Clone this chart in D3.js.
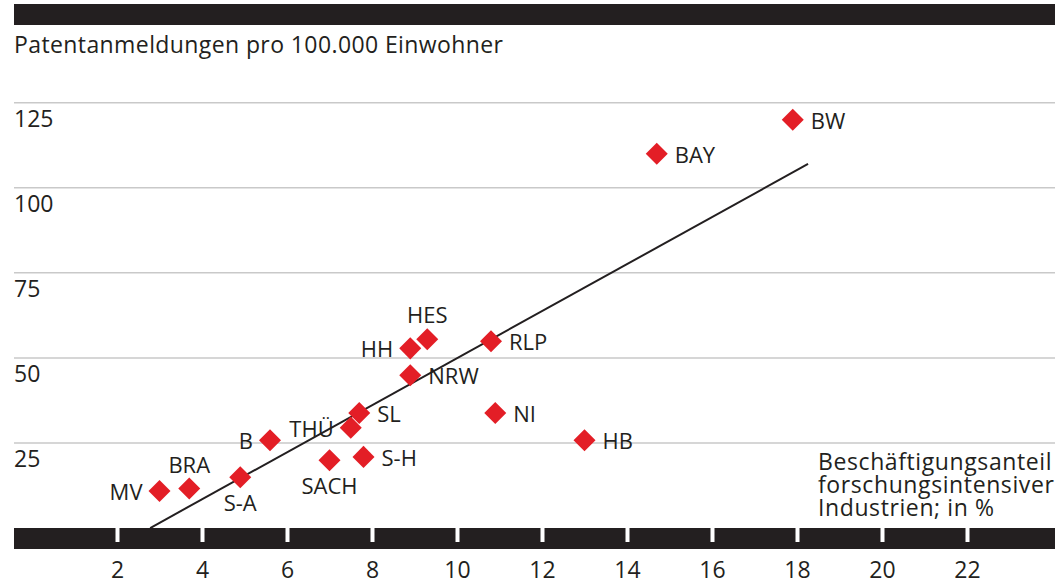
<!DOCTYPE html>
<html>
<head>
<meta charset="utf-8">
<script src="https://cdn.jsdelivr.net/npm/d3@7"></script>
<style>
  body { margin: 0; background: #fff; }
  svg { display: block; font-family: "Open Sans", sans-serif; }
</style>
</head>
<body>
<svg id="chart" width="1055" height="585"></svg>
<script>
// Bundesländer: Beschäftigungsanteil forschungsintensiver Industrien (%) vs. Patentanmeldungen
const states = ["BW", "BAY", "HES", "HH", "RLP", "NRW", "SL", "THÜ", "NI", "B", "S-H", "SACH", "S-A", "HB", "BRA", "MV"];
const shares = [17.9, 14.7, 9.3, 8.9, 10.8, 8.9, 7.7, 7.5, 10.9, 5.6, 7.8, 7.0, 4.9, 13.0, 3.7, 3.0];
const patents = [120, 110, 55.5, 52.8, 54.9, 44.9, 33.8, 29.5, 33.8, 25.8, 20.9, 19.9, 14.9, 25.8, 11.6, 10.9];

// Trendlinie (Endpunkte)
const trendX = [2.78, 18.26];
const trendY = [0, 107];

const yTicks = [25, 50, 75, 100, 125];
const xTicks = [2, 4, 6, 8, 10, 12, 14, 16, 18, 20, 22];
const xTitle = ["Beschäftigungsanteil", "forschungsintensiver", "Industrien; in %"];

// label side for each state
const labelSide = {
  "BW": "r", "BAY": "r", "HES": "t", "HH": "l", "RLP": "r", "NRW": "r", "SL": "r",
  "THÜ": "l", "NI": "r", "B": "l", "S-H": "r", "SACH": "b", "S-A": "b", "HB": "r",
  "BRA": "t", "MV": "l"
};

const svg = d3.select("#chart");
const W = 1055, left = 14;
const ink = "#231f20", red = "#e31e26";

const x = d3.scaleLinear().domain([0, 22]).range([32, 967]);
const y = d3.scaleLinear().domain([0, 125]).range([528, 102.7]);

// top bar
svg.append("rect").attr("x", left).attr("y", 4).attr("width", W - left).attr("height", 21).attr("fill", ink);

svg.append("text").attr("x", left).attr("y", 53)
  .attr("font-size", 23).attr("letter-spacing", 0.4).attr("fill", ink)
  .text("Patentanmeldungen pro 100.000 Einwohner");

// gridlines + y labels
const yg = svg.append("g");
yg.selectAll("line").data(yTicks).join("line")
  .attr("x1", left).attr("x2", W)
  .attr("y1", d => y(d)).attr("y2", d => y(d))
  .attr("stroke", "#c9c9c9").attr("stroke-width", 1.5);
yg.selectAll("text").data(yTicks).join("text")
  .attr("x", left).attr("y", d => y(d) + 24)
  .attr("font-size", 23).attr("fill", ink)
  .text(d => d);

// x axis bar
svg.append("rect").attr("x", left).attr("y", y(0)).attr("width", W - left).attr("height", 21).attr("fill", ink);
const xAxis = d3.axisBottom(x).tickValues(xTicks).tickSize(0).tickPadding(0);
const xg = svg.append("g").attr("transform", `translate(0,${y(0)})`).call(xAxis);
xg.select(".domain").remove();
xg.selectAll(".tick line").remove();
xg.selectAll(".tick").append("rect")
  .attr("x", -2).attr("y", 0).attr("width", 4).attr("height", 14).attr("fill", "#fff");
xg.selectAll(".tick text")
  .attr("y", 50).attr("dy", null)
  .attr("font-family", "Open Sans, sans-serif")
  .attr("font-size", 23).attr("fill", ink);

// x axis title
svg.append("text").attr("x", 818).attr("y", 470)
  .attr("font-size", 23).attr("letter-spacing", 0.6).attr("fill", ink)
  .selectAll("tspan")
  .data(xTitle)
  .join("tspan").attr("x", 818).attr("dy", (d, i) => i ? 23 : 0).text(d => d);

// trend line
svg.append("path")
  .datum(trendX.map((v, i) => [v, trendY[i]]))
  .attr("fill", "none").attr("stroke", ink).attr("stroke-width", 2)
  .attr("d", d3.line().x(d => x(d[0])).y(d => y(d[1])));

// points
const pts = states.map((s, i) => ({ s, px: x(shares[i]), py: y(patents[i]) }));
const diamond = d3.symbol(d3.symbolSquare, 243);
svg.append("g").selectAll("path").data(pts).join("path")
  .attr("transform", d => `translate(${d.px},${d.py}) rotate(45)`)
  .attr("d", diamond).attr("fill", red);

// labels
svg.append("g").selectAll("text").data(pts).join("text")
  .attr("font-size", 22).attr("fill", ink)
  .attr("x", d => {
    const side = labelSide[d.s];
    if (side === "r") return d.px + 18;
    if (side === "l") return d.px - 17;
    return d.px;
  })
  .attr("y", d => {
    const side = labelSide[d.s];
    if (side === "t") return d.py - 16;
    if (side === "b") return d.py + 34;
    return d.py + 9;
  })
  .attr("text-anchor", d => {
    const side = labelSide[d.s];
    return side === "r" ? "start" : side === "l" ? "end" : "middle";
  })
  .text(d => d.s);
</script>
</body>
</html>
